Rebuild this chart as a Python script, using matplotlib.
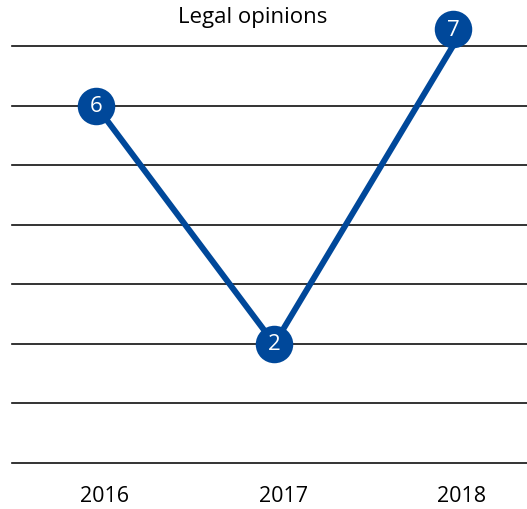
import matplotlib.pyplot as plt
import matplotlib.transforms as mtransforms

years = ["2016", "2017", "2018"]
opinions = [6, 2, 7]
# the top marker is lifted above the frame in the original
lift_px = [0, 0, 17]

blue = "#00489A"
plt.rcParams['font.family'] = ['Open Sans', 'DejaVu Sans']

fig = plt.figure(figsize=(5.27, 5.10), dpi=100)
ax = fig.add_axes([12 / 527, 46 / 510, 515 / 527, 417 / 510])

x = list(range(len(years)))
ax.set_xlim(-0.47, 2.415)
ax.set_ylim(0, 7)

for v in range(0, 8):
    ax.axhline(v, color="#111111", lw=1.2, zorder=1, clip_on=False)

ax.plot(x, opinions, color=blue, lw=4.3, zorder=2, solid_capstyle="butt")

for xi, yi, lp in zip(x, opinions, lift_px):
    tr = ax.transData + mtransforms.ScaledTranslation(0, lp / 100, fig.dpi_scale_trans)
    ax.plot([xi], [yi], "o", ms=27, color=blue, mec=blue, mew=0,
            transform=tr, clip_on=False, zorder=3)
    ax.text(xi, yi, str(yi), transform=tr, color="white", fontsize=16,
            ha="center", va="center", zorder=4)

# year labels sit a bit right of the points
lab_tr = mtransforms.blended_transform_factory(ax.transData, fig.transFigure) + \
    mtransforms.ScaledTranslation(0.09, 0, fig.dpi_scale_trans)
for xi, yr in zip(x, years):
    ax.text(xi, 1 - 497 / 510, yr, transform=lab_tr, fontsize=15.5,
            ha="center", va="center")

ax.set_xticks([])
ax.set_yticks([])
for s in ax.spines.values():
    s.set_visible(False)

fig.text(253 / 527, 1 - 18 / 510, "Legal opinions", ha="center", va="center", fontsize=16)

fig.savefig("out.png", dpi=100)
